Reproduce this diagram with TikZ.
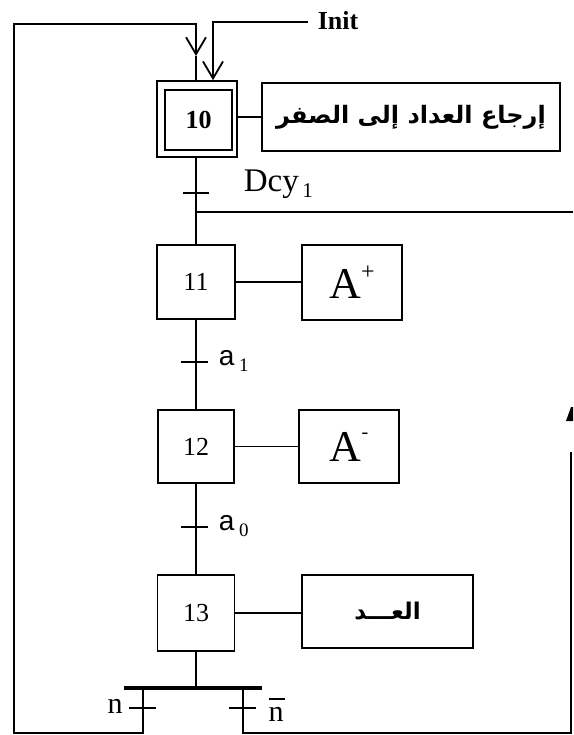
\documentclass[tikz,border=0pt]{standalone}
\usepackage{fontspec}
\setmainfont{Liberation Serif}
\newfontfamily\arabicfont[Script=Arabic]{DejaVu Sans}
\newfontfamily\sansfam{Liberation Sans}
\TeXXeTstate=1
\usetikzlibrary{arrows.meta}
\begin{document}
\begin{tikzpicture}[x=1pt,y=-1pt,line width=1.6pt,
  stepbox/.style={draw,inner sep=0pt,minimum width=78pt,minimum height=74pt,font=\fontsize{26}{26}\selectfont},
  actbox/.style={draw,inner sep=0pt},
  tick/.style={line width=1.5pt},
  lbl/.style={inner sep=0pt,anchor=west},
  barb/.style={-{Straight Barb[length=17pt,width=20pt,line width=1.8pt]}}]
\useasboundingbox (0,0) rectangle (573,735);
% initial step 10
\node[draw,inner sep=0pt,minimum width=80pt,minimum height=76pt] (s10o) at (197,119) {};
\node[draw,inner sep=0pt,minimum width=67pt,minimum height=60pt,font=\fontsize{26}{26}\selectfont\bfseries] (s10) at (198.5,120) {10};
\node[actbox,minimum width=298pt,minimum height=68pt] (a10) at (411,117)
  {\fontsize{24}{24}\selectfont\arabicfont\bfseries\beginR إرجاع العداد إلى الصفر\endR};
% steps
\node[stepbox] (s11) at (196,282) {11};
\node[actbox,minimum width=100pt,minimum height=75pt] (a11) at (352,282.5)
  {\fontsize{44}{44}\selectfont A\raisebox{19pt}{\fontsize{24}{24}\selectfont +}};
\node[stepbox,minimum width=76pt,minimum height=73pt] (s12) at (196,446.5) {12};
\node[actbox,minimum width=100pt,minimum height=73pt] (a12) at (349,446.5)
  {\fontsize{44}{44}\selectfont A\raisebox{23pt}{\fontsize{20}{20}\selectfont -}};
\node[stepbox,minimum width=77pt,minimum height=76pt] (s13) at (196,613) {13};
\node[actbox,minimum width=171pt,minimum height=73pt] (a13) at (387.5,611.5)
  {\fontsize{23}{23}\selectfont\arabicfont\bfseries\beginR العـــد\endR};
% action links
\draw (a10.west -| s10o.east) -- (a10.west);
\draw (s11.east) -- (s11.east -| a11.west);
\draw (s12.east) -- (s12.east -| a12.west);
\draw (s13.east) -- (s13.east -| a13.west);
% sequence links and transitions
\coordinate (t0) at (196,193);
\coordinate (t1) at (196,362);
\coordinate (t2) at (196,527);
\draw (s10o.south -| t0) -- (s11.north);
\draw (s11.south) -- (s12.north);
\draw (s12.south) -- (s13.north);
\draw[tick] ([xshift=-13pt]t0) -- ([xshift=13pt]t0);
\draw[tick] ([xshift=-15pt]t1) -- ([xshift=12pt]t1);
\draw[tick] ([xshift=-15pt]t2) -- ([xshift=12pt]t2);
\node[lbl] (l0) at (243,184) {\fontsize{33}{33}\selectfont Dcy\raisebox{-6pt}{\fontsize{21}{21}\selectfont\,1}};
\node[lbl] (l1) at (218,361) {\fontsize{28}{28}\selectfont\sansfam a\,\raisebox{-6pt}{\fontsize{19}{19}\selectfont\rmfamily 1}};
\node[lbl] (l2) at (218,526) {\fontsize{28}{28}\selectfont\sansfam a\,\raisebox{-6pt}{\fontsize{19}{19}\selectfont\rmfamily 0}};
% line towards the right after Dcy1
\coordinate (r0) at (196,212);
\coordinate (r1) at (573,212);
\draw (r0) -- (r1);
% divergence (OR) at the bottom
\coordinate (bar) at (196,688);
\coordinate (barL) at (124,688);
\coordinate (barR) at (262,688);
\draw (s13.south) -- (bar);
\draw[line width=3.5pt] (barL) -- (barR);
\coordinate (bn) at (143,688);
\coordinate (bnb) at (243,688);
\coordinate (tn) at (143,708);
\coordinate (tnb) at (243,708);
\draw[tick] ([xshift=-14pt]tn) -- ([xshift=13pt]tn);
\draw[tick] ([xshift=-14pt]tnb) -- ([xshift=13pt]tnb);
\node[inner sep=0pt] (ln) at (115,706) {\fontsize{30}{30}\selectfont n};
\node[inner sep=0pt,anchor=base] (lnb) at (276,721) {\fontsize{30}{30}\selectfont\rlap{\rule[21pt]{16pt}{2.5pt}}n};
% loop back to step 10 through n
\coordinate (c1) at (143,733);
\coordinate (c2) at (14,733);
\coordinate (c3) at (14,24);
\coordinate (c4) at (196,24);
\coordinate (c5) at (196,56);
\draw[barb] (bn) -- (c1) -- (c2) -- (c3) -- (c4) -- (c5);
\draw (c5) -- (s10o.north -| c5);
% branch not n, to the right
\coordinate (d1) at (243,733);
\coordinate (d2) at (571,733);
\coordinate (d3) at (571,452);
\draw (bnb) -- (d1) -- (d2) -- (d3);
\fill (566,421) -- (571,407) -- (573,407) -- (573,421) -- cycle;
% Init
\coordinate (i0) at (308,22);
\coordinate (i1) at (213,22);
\draw[barb] (i0) -- (i1) -- (i1 |- s10o.north);
\node[lbl] (linit) at (317,21) {\fontsize{26}{26}\selectfont\bfseries Init};
\end{tikzpicture}
\end{document}
